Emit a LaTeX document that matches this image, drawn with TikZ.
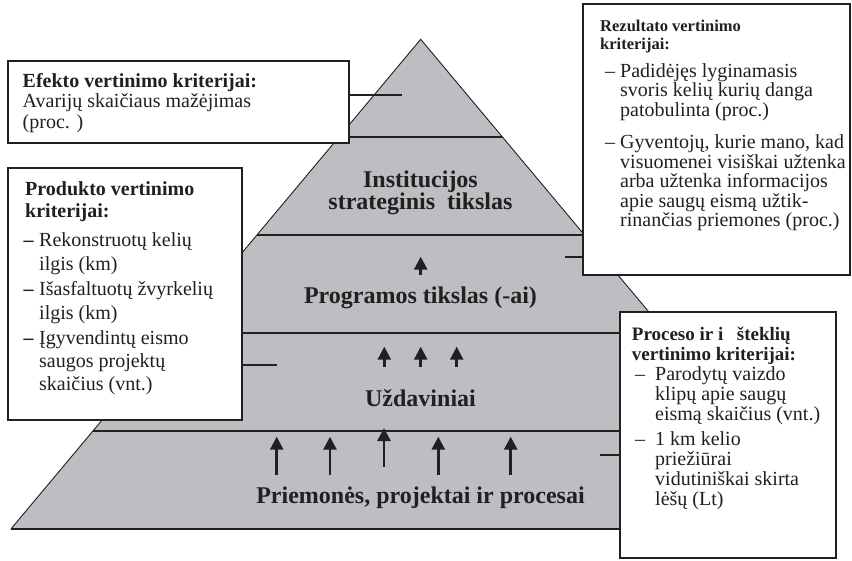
\documentclass[tikz,border=0pt]{standalone}
\usepackage{fontspec}
\setmainfont{Liberation Serif}
\usetikzlibrary{arrows.meta}
\definecolor{inkc}{RGB}{35,31,32}
\definecolor{pyrfill}{RGB}{189,190,194}
% bullet dash of a given width, and the matching hanging indent
\newcommand{\critdash}[1]{\makebox[#1][l]{–}}
\newcommand{\critbdash}[1]{\makebox[#1][l]{\textbf{–}}}
\newcommand{\critgap}[1]{\hspace*{#1}}
% fixed top of a text block: its first baseline lies 16pt below the node's north
\newcommand{\crittop}{\rule{0pt}{16pt}}

\begin{document}
\begin{tikzpicture}[x=1pt,y=-1pt,
  critbox/.style={draw=inkc, line width=1.8pt, fill=white, inner sep=0pt, anchor=north west},
  crittext/.style={inner sep=0pt, anchor=north west, align=left, text=inkc,
    font=\fontsize{20}{20}\selectfont},
  levellabel/.style={inner sep=0pt, anchor=base, align=center, text=inkc,
    font=\fontsize{24}{22}\selectfont\bfseries},
  tick/.style={draw=inkc, line width=1.8pt},
  band/.style={draw=inkc, line width=1.2pt},
  uparrow/.style={draw=inkc, line width=2.6pt, -{Triangle[width=13pt,length=13pt]}}
]
\useasboundingbox (0,0) rectangle (852,560);

% the pyramid and its levels
\coordinate (apex) at (420.7,39.3);
\coordinate (bl) at (10.9,529);
\coordinate (br) at (830.5,529);
\fill[pyrfill] (apex) -- (br) -- (bl) -- cycle;
\begin{scope}
  \clip (apex) -- (br) -- (bl) -- cycle;
  \foreach \yy in {137,235,333,431}
    \draw[band] (0,\yy) -- (852,\yy);
\end{scope}
\draw[inkc, line width=0.9pt, line join=miter] (bl) -- (apex) -- (br);
\draw[inkc, line width=1.6pt] (bl) -- (br);

% level labels (base anchor sits on the last line)
\node[levellabel] (inst) at (420.5,209) {Institucijos\\strateginis\ \ tikslas};
\node[levellabel] (prog) at (420.5,303) {Programos tikslas (-ai)};
\node[levellabel] (uzd)  at (420.5,406) {Uždaviniai};
\node[levellabel] (prie) at (420.5,503) {Priemonės, projektai ir procesai};

% arrows between levels
\draw[uparrow] (420.7,275) -- (420.7,256.7);
\foreach \ax in {384.3,420.7,456.7}
  \draw[uparrow] (\ax,366.7) -- (\ax,346.7);
\foreach \ax in {276.7,330,438.3,510.7}
  \draw[uparrow] (\ax,475) -- (\ax,436.7);
\draw[uparrow] (384,466.7) -- (384,428);

% criteria boxes
\node[critbox, minimum width=341pt, minimum height=82pt]  (efb) at (7,60) {};
\node[critbox, minimum width=234pt, minimum height=252pt] (prb) at (7,166.7) {};
\node[critbox, minimum width=267pt, minimum height=271pt] (reb) at (582,3.3) {};
\node[critbox, minimum width=216pt, minimum height=246pt] (pcb) at (619,311) {};

% connectors from the boxes to the levels
\coordinate (eftip) at (402,95);
\coordinate (prtip) at (277,365);
\coordinate (retip) at (565,257);
\coordinate (pctip) at (600,455);
\draw[tick] (efb.east |- eftip) -- (eftip);
\draw[tick] (prb.east |- prtip) -- (prtip);
\draw[tick] (reb.west |- retip) -- (retip);
\draw[tick] (pcb.west |- pctip) -- (pctip);

% box texts (north = first baseline - 16)
\node[crittext, font=\fontsize{20}{20.5}\selectfont] (eft) at (22.5,71)
  {\crittop\textbf{Efekto vertinimo kriterijai:}\\Avarijų skaičiaus mažėjimas\\(proc. )};

\node[crittext, font=\fontsize{20}{24}\selectfont] (prt) at (23.5,179)
  {\crittop\textbf{\hspace*{1.5pt}Produkto vertinimo}\\[-2pt]
   \textbf{\hspace*{1.5pt}kriterijai:}\\[5pt]
   \critbdash{15.5pt}Rekonstruotų kelių\\
   \critgap{15.5pt}ilgis (km)\\[1pt]
   \critbdash{15.5pt}Išasfaltuotų žvyrkelių\\
   \critgap{15.5pt}ilgis (km)\\[1pt]
   \critbdash{15.5pt}Įgyvendintų eismo\\[-1pt]
   \critgap{15.5pt}saugos projektų\\[-1pt]
   \critgap{15.5pt}skaičius (vnt.)};

\node[crittext, font=\fontsize{16.5}{18}\selectfont\bfseries] (rett) at (600,15.5)
  {\crittop Rezultato vertinimo\\kriterijai:};
\node[crittext, font=\fontsize{20}{19.5}\selectfont] (reby) at (605,61)
  {\crittop\critdash{15pt}Padidėjęs lyginamasis\\
   \critgap{15pt}svoris kelių kurių danga\\
   \critgap{15pt}patobulinta (proc.)\\[13pt]
   \critdash{15pt}Gyventojų, kurie mano, kad\\
   \critgap{15pt}visuomenei visiškai užtenka\\
   \critgap{15pt}arba užtenka informacijos\\
   \critgap{15pt}apie saugų eismą užtik-\\
   \critgap{15pt}rinančias priemones (proc.)};

\node[crittext, font=\fontsize{19}{20}\selectfont\bfseries] (pctt) at (631.7,324)
  {\crittop Proceso ir i\hspace{13.5pt}šteklių\\vertinimo kriterijai:};
\node[crittext, font=\fontsize{20}{20}\selectfont] (pcby) at (635,364)
  {\crittop\critdash{20pt}Parodytų vaizdo\\
   \critgap{20pt}klipų apie saugų\\
   \critgap{20pt}eismą skaičius (vnt.)\\[5pt]
   \critdash{20pt}1 km kelio\\
   \critgap{20pt}priežiūrai\\
   \critgap{20pt}vidutiniškai skirta\\
   \critgap{20pt}lėšų (Lt)};
\end{tikzpicture}
\end{document}
